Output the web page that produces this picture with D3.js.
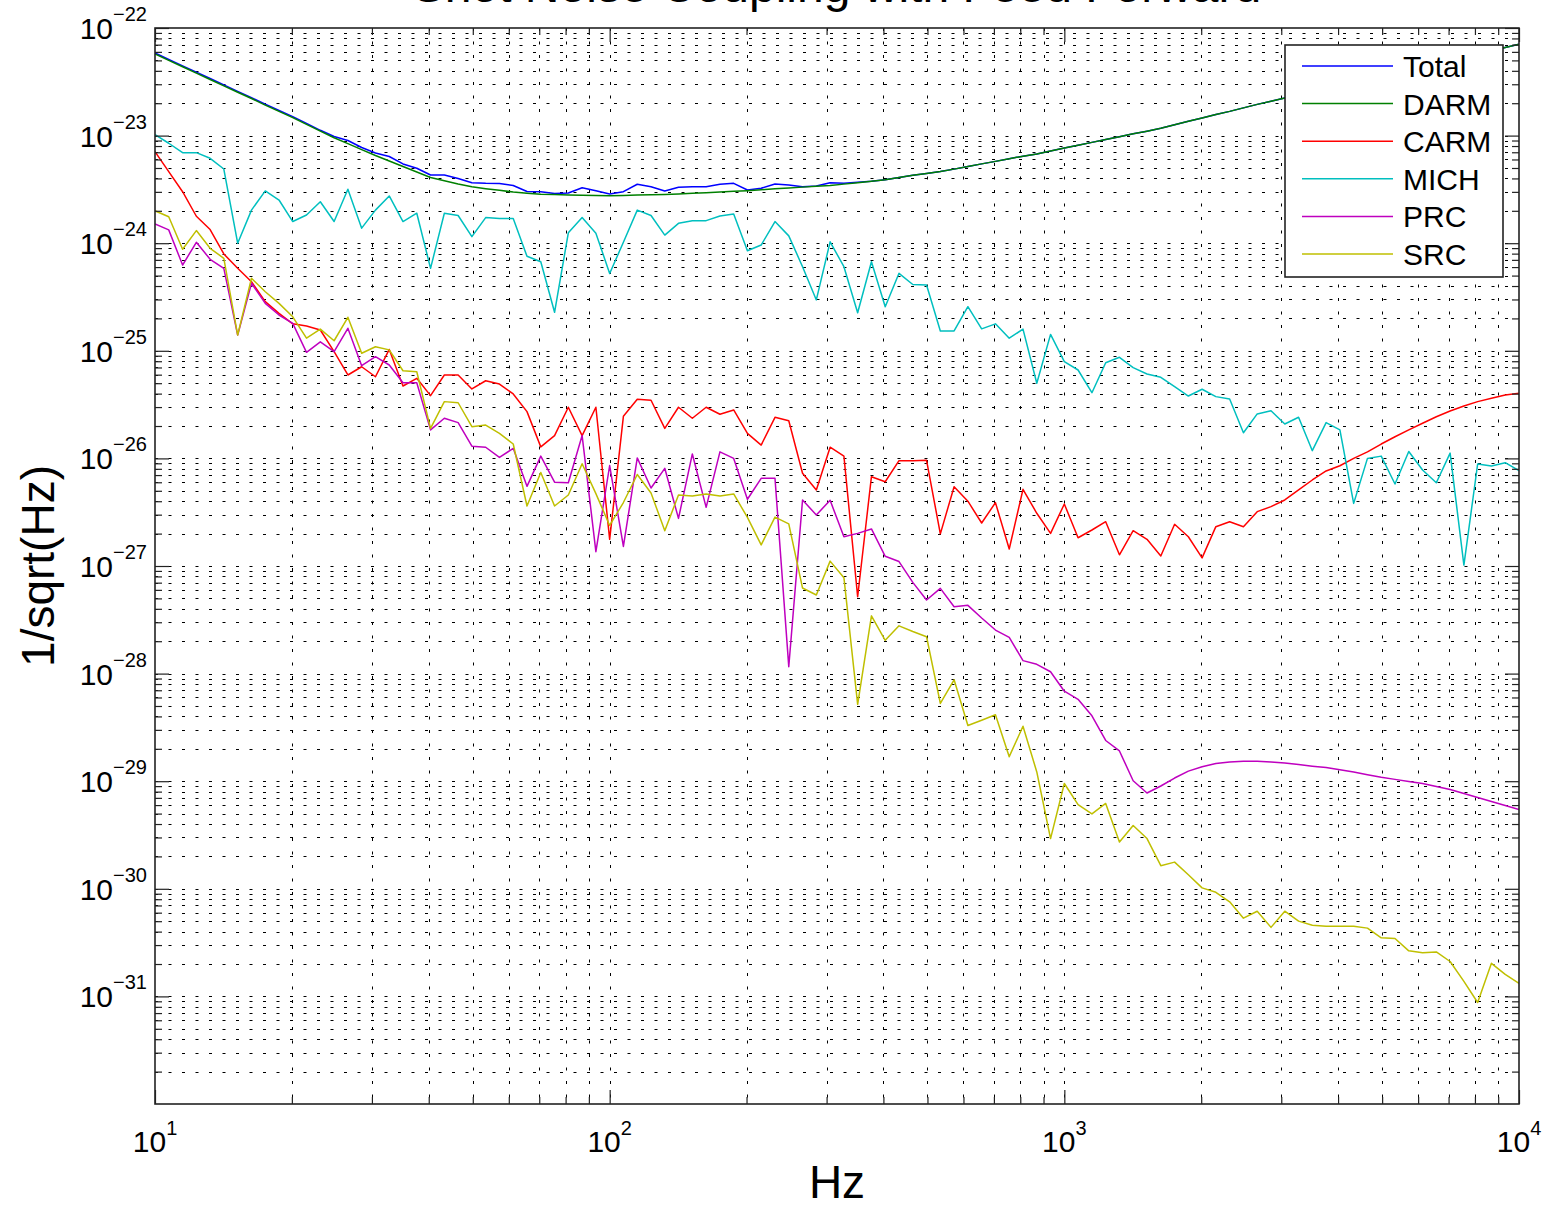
<!DOCTYPE html>
<html><head><meta charset="utf-8">
<script src="https://cdn.jsdelivr.net/npm/d3@7"></script>
<style>
body{margin:0;background:#fff;}
text{font-family:"Liberation Sans",Arial,Helvetica,sans-serif;fill:#000;}
</style>
</head><body>
<svg id="chart" width="1547" height="1207"></svg>
<script>
const freq = [10,10.72,11.50,12.33,13.22,14.17,15.20,16.30,17.48,18.74,20.09,21.54,23.10,24.77,26.56,28.48,30.54,32.75,35.11,37.65,40.37,43.29,46.42,49.77,53.37,57.22,61.36,65.79,70.55,75.65,81.11,86.98,93.26,
100,107.2,115.0,123.3,132.2,141.7,152.0,163.0,174.8,187.4,200.9,215.4,231.0,247.7,265.6,284.8,305.4,327.5,351.1,376.5,403.7,432.9,464.2,497.7,533.7,572.2,613.6,657.9,705.5,756.5,811.1,869.8,932.6,
1000,1072,1150,1233,1322,1417,1520,1630,1748,1874,2009,2154,2310,2477,2656,2848,3054,3275,3511,3765,4037,4329,4642,4977,5337,5722,6136,6579,7055,7565,8111,8697,9326,10000];

const total = [5.85e-23,5.10e-23,4.45e-23,3.89e-23,3.39e-23,2.96e-23,2.58e-23,2.25e-23,1.96e-23,1.71e-23,1.50e-23,1.30e-23,1.12e-23,
9.81e-24,9.01e-24,7.75e-24,6.89e-24,6.39e-24,5.45e-24,4.97e-24,4.30e-24,4.30e-24,3.99e-24,3.65e-24,3.60e-24,3.59e-24,3.44e-24,3.02e-24,3.01e-24,2.90e-24,2.93e-24,3.28e-24,3.07e-24,2.87e-24,3.01e-24,3.53e-24,3.35e-24,3.06e-24,3.31e-24,3.35e-24,3.35e-24,3.53e-24,3.60e-24,3.12e-24,3.24e-24,3.55e-24,3.47e-24,3.35e-24,3.40e-24,3.65e-24,3.60e-24,3.68e-24,
3.76e-24,3.89e-24,4.08e-24,4.27e-24,4.45e-24,4.63e-24,4.88e-24,5.16e-24,5.46e-24,5.76e-24,6.09e-24,6.44e-24,6.76e-24,7.19e-24,7.67e-24,8.14e-24,8.65e-24,9.18e-24,9.75e-24,1.04e-23,1.10e-23,1.17e-23,1.26e-23,1.36e-23,1.46e-23,1.57e-23,1.68e-23,1.81e-23,1.95e-23,2.09e-23,2.24e-23,2.39e-23,2.56e-23,2.74e-23,2.93e-23,3.13e-23,3.36e-23,3.59e-23,3.84e-23,4.12e-23,4.40e-23,4.71e-23,5.04e-23,5.39e-23,5.77e-23,6.17e-23,6.60e-23,7.07e-23];

const darm = [5.73e-23,5.00e-23,4.36e-23,3.81e-23,3.32e-23,2.90e-23,2.53e-23,2.21e-23,1.92e-23,1.68e-23,1.47e-23,1.27e-23,1.10e-23,
9.56e-24,8.43e-24,7.41e-24,6.53e-24,5.81e-24,5.16e-24,4.59e-24,4.08e-24,3.81e-24,3.55e-24,3.34e-24,3.21e-24,3.10e-24,2.99e-24,2.91e-24,2.85e-24,2.83e-24,2.81e-24,2.79e-24,2.78e-24,2.76e-24,2.78e-24,2.80e-24,2.82e-24,2.84e-24,2.87e-24,2.91e-24,2.95e-24,2.99e-24,3.04e-24,3.08e-24,3.14e-24,3.20e-24,3.26e-24,3.32e-24,3.38e-24,3.44e-24,3.54e-24,3.65e-24,
3.76e-24,3.89e-24,4.08e-24,4.27e-24,4.45e-24,4.63e-24,4.88e-24,5.16e-24,5.46e-24,5.76e-24,6.09e-24,6.44e-24,6.76e-24,7.19e-24,7.67e-24,8.14e-24,8.65e-24,9.18e-24,9.75e-24,1.04e-23,1.10e-23,1.17e-23,1.26e-23,1.36e-23,1.46e-23,1.57e-23,1.68e-23,1.81e-23,1.95e-23,2.09e-23,2.24e-23,2.39e-23,2.56e-23,2.74e-23,2.93e-23,3.13e-23,3.36e-23,3.59e-23,3.84e-23,4.12e-23,4.40e-23,4.71e-23,5.04e-23,5.39e-23,5.77e-23,6.17e-23,6.60e-23,7.07e-23];

const carm = [7.09e-24,4.62e-24,3.01e-24,1.78e-24,1.34e-24,7.94e-25,5.84e-25,4.39e-25,2.86e-25,2.23e-25,1.78e-25,1.70e-25,1.56e-25,9.81e-26,5.96e-26,7.11e-26,5.74e-26,1.03e-25,4.71e-26,5.55e-26,
3.83e-26,5.96e-26,5.96e-26,4.42e-26,5.27e-26,4.91e-26,3.97e-26,2.72e-26,1.28e-26,1.63e-26,2.99e-26,1.63e-26,2.99e-26,1.77e-27,2.46e-26,3.54e-26,3.47e-26,1.90e-26,2.99e-26,2.36e-26,
2.99e-26,2.57e-26,2.82e-26,1.71e-26,1.33e-26,2.41e-26,2.24e-26,7.27e-27,5.09e-27,1.27e-26,1.05e-26,5.18e-28,6.76e-27,6.07e-27,9.52e-27,9.52e-27,9.60e-27,1.99e-27,5.46e-27,4.00e-27,
2.51e-27,3.88e-27,1.44e-27,5.16e-27,3.09e-27,2.01e-27,3.77e-27,1.83e-27,2.16e-27,2.58e-27,1.27e-27,2.13e-27,1.77e-27,1.24e-27,2.44e-27,1.87e-27,1.19e-27,2.32e-27,2.58e-27,2.32e-27,
3.20e-27,3.56e-27,4.11e-27,5.09e-27,6.30e-27,7.64e-27,8.55e-27,1.00e-26,1.15e-26,1.36e-26,1.59e-26,1.84e-26,2.12e-26,2.44e-26,2.76e-26,3.07e-26,3.37e-26,3.62e-26,3.88e-26,4.03e-26];

const mich = [1.02e-23,8.49e-24,6.94e-24,6.94e-24,6.15e-24,4.89e-24,1.00e-24,2.03e-24,3.06e-24,2.52e-24,1.59e-24,1.83e-24,2.43e-24,1.59e-24,3.17e-24,1.38e-24,2.03e-24,2.75e-24,1.59e-24,1.90e-24,
5.84e-25,1.90e-24,1.81e-24,1.15e-24,1.73e-24,1.70e-24,1.70e-24,7.56e-25,6.73e-25,2.28e-25,1.25e-24,1.73e-24,1.24e-24,5.23e-25,1.02e-24,2.03e-24,1.81e-24,1.19e-24,1.53e-24,1.62e-24,
1.62e-24,1.79e-24,1.87e-24,8.52e-25,9.62e-25,1.59e-24,1.17e-24,6.05e-25,2.97e-25,1.03e-24,6.05e-25,2.26e-25,6.73e-25,2.57e-25,5.25e-25,4.13e-25,4.09e-25,1.53e-25,1.53e-25,2.57e-25,
1.60e-25,1.78e-25,1.31e-25,1.59e-25,4.99e-26,1.42e-25,7.92e-26,6.63e-26,4.08e-26,7.75e-26,8.70e-26,6.97e-26,6.09e-26,5.67e-26,4.64e-26,3.80e-26,4.39e-26,3.75e-26,3.57e-26,1.73e-26,
2.59e-26,2.77e-26,2.09e-26,2.41e-26,1.18e-26,2.15e-26,1.84e-26,3.82e-27,1.00e-26,1.05e-26,5.78e-27,1.16e-26,7.80e-27,5.94e-27,1.12e-26,1.02e-27,8.87e-27,8.50e-27,9.12e-27,7.69e-27];

const prc = [1.51e-24,1.33e-24,6.27e-25,1.02e-24,7.09e-25,5.84e-25,1.40e-25,4.24e-25,2.76e-25,2.15e-25,1.80e-25,9.68e-26,1.21e-25,9.81e-26,1.62e-25,7.27e-26,8.81e-26,7.38e-26,5.05e-26,5.05e-26,
1.84e-26,2.36e-26,2.15e-26,1.30e-26,1.27e-26,1.02e-26,1.24e-26,5.50e-27,1.05e-26,6.01e-27,5.94e-27,1.63e-26,1.36e-27,8.59e-27,1.52e-27,1.01e-26,5.31e-27,8.09e-27,2.77e-27,1.10e-26,
3.51e-27,1.15e-26,1.00e-26,4.17e-27,6.53e-27,6.53e-27,1.16e-28,4.11e-27,2.98e-27,4.08e-27,1.87e-27,2.01e-27,2.21e-27,1.23e-27,1.10e-27,7.04e-28,4.83e-28,6.19e-28,4.18e-28,4.31e-28,
3.29e-28,2.54e-28,2.17e-28,1.32e-28,1.22e-28,1.04e-28,6.86e-29,5.77e-29,4.05e-29,2.39e-29,1.91e-29,1.01e-29,7.77e-30,9.02e-30,1.07e-29,1.24e-29,1.36e-29,1.46e-29,1.51e-29,1.53e-29,
1.53e-29,1.51e-29,1.48e-29,1.43e-29,1.38e-29,1.34e-29,1.28e-29,1.22e-29,1.15e-29,1.09e-29,1.04e-29,9.96e-30,9.52e-30,8.93e-30,8.37e-30,7.69e-30,7.06e-30,6.48e-30,5.95e-30,5.46e-30];

const src = [2.00e-24,1.76e-24,8.78e-25,1.31e-24,8.97e-25,7.24e-25,1.40e-25,4.72e-25,3.54e-25,2.76e-25,2.07e-25,1.31e-25,1.59e-25,1.24e-25,2.05e-25,9.48e-26,1.09e-25,1.02e-25,6.53e-26,6.39e-26,
1.90e-26,3.37e-26,3.29e-26,1.97e-26,2.04e-26,1.71e-26,1.36e-26,3.61e-27,7.40e-27,3.61e-27,4.57e-27,8.93e-27,4.70e-27,2.38e-27,3.89e-27,7.09e-27,4.77e-27,2.13e-27,4.57e-27,4.47e-27,
4.67e-27,4.47e-27,4.67e-27,2.83e-27,1.57e-27,2.85e-27,2.46e-27,6.24e-28,5.38e-28,1.11e-27,7.79e-28,5.18e-29,3.44e-28,2.04e-28,2.78e-28,2.46e-28,2.20e-28,5.28e-29,8.76e-29,3.29e-29,
3.69e-29,4.14e-29,1.69e-29,3.24e-29,1.22e-29,2.93e-30,9.52e-30,6.06e-30,4.96e-30,6.21e-30,2.72e-30,3.87e-30,2.93e-30,1.64e-30,1.77e-30,1.35e-30,1.02e-30,9.28e-31,7.57e-31,5.33e-31,
6.19e-31,4.38e-31,6.19e-31,5.01e-31,4.58e-31,4.48e-31,4.48e-31,4.48e-31,4.31e-31,3.50e-31,3.45e-31,2.65e-31,2.55e-31,2.59e-31,2.11e-31,1.38e-31,8.78e-32,2.03e-31,1.60e-31,1.32e-31];

const seriesNames = ["Total","DARM","CARM","MICH","PRC","SRC"];
const seriesColors = ["#0000ff","#008000","#ff0000","#00bfbf","#bf00bf","#bfbf00"];
const xDomain = [10, 10000];
const yDomain = [1e-32, 1e-22];
const titleText = "Shot Noise Coupling with Feed Forward";
const xLabel = "Hz";
const yLabel = "1/sqrt(Hz)";

const seriesData = [total, darm, carm, mich, prc, src];

const L = 155, R = 1519, T = 28, B = 1104;
const svg = d3.select("#chart");
const x = d3.scaleLog().domain(xDomain).range([L, R]);
const y = d3.scaleLog().domain(yDomain).range([B, T]);

const isDecade = v => Math.abs(Math.log10(v) - Math.round(Math.log10(v))) < 1e-9;
const xAll = x.ticks();
const yAll = y.ticks(20);
const xMajor = xAll.filter(isDecade), xMinor = xAll.filter(v => !isDecade(v));
const yMajor = yAll.filter(isDecade), yMinor = yAll.filter(v => !isDecade(v));

// grid
const grid = svg.append("g").attr("stroke", "#000").attr("stroke-width", 1)
  .attr("stroke-dasharray", "3,10.5").attr("stroke-opacity", 1);
grid.selectAll(".gx").data(xAll.filter(v => v > xDomain[0] && v < xDomain[1])).join("line")
  .attr("x1", d => Math.round(x(d)) + 0.5).attr("x2", d => Math.round(x(d)) + 0.5)
  .attr("y1", T).attr("y2", B);
grid.selectAll(".gy").data(yAll.filter(v => v > yDomain[0] * 1.0001 && v < yDomain[1] * 0.9999)).join("line")
  .attr("y1", d => Math.round(y(d)) + 0.5).attr("y2", d => Math.round(y(d)) + 0.5)
  .attr("x1", L).attr("x2", R);

// clip
svg.append("clipPath").attr("id", "clip").append("rect")
  .attr("x", L).attr("y", T).attr("width", R - L).attr("height", B - T);

const line = d3.line().x(d => x(d[0])).y(d => y(d[1]));
const lines = svg.append("g").attr("clip-path", "url(#clip)");
seriesData.forEach((s, i) => {
  lines.append("path")
    .attr("d", line(freq.map((f, k) => [f, s[k]])))
    .attr("fill", "none").attr("stroke", seriesColors[i])
    .attr("stroke-width", 1.5).attr("stroke-linejoin", "round");
});

// axes ticks (inward)
function styleAxis(g) {
  g.select(".domain").remove();
  g.selectAll(".tick line").attr("stroke", "#222").attr("stroke-width", 1.2);
  g.selectAll(".tick text").remove();
}
const tickMaj = 14, tickMin = 7;
[[d3.axisBottom, B], [d3.axisTop, T]].forEach(([ax, pos]) => {
  svg.append("g").attr("transform", `translate(0,${pos})`)
    .call(ax(x).tickValues(xMajor).tickSize(-tickMaj).tickSizeOuter(0)).call(styleAxis);
  svg.append("g").attr("transform", `translate(0,${pos})`)
    .call(ax(x).tickValues(xMinor).tickSize(-tickMin).tickSizeOuter(0)).call(styleAxis);
});
[[d3.axisLeft, L], [d3.axisRight, R]].forEach(([ax, pos]) => {
  svg.append("g").attr("transform", `translate(${pos},0)`)
    .call(ax(y).tickValues(yMajor).tickSize(-tickMaj).tickSizeOuter(0)).call(styleAxis);
  svg.append("g").attr("transform", `translate(${pos},0)`)
    .call(ax(y).tickValues(yMinor).tickSize(-tickMin).tickSizeOuter(0)).call(styleAxis);
});

// frame
svg.append("rect").attr("x", L).attr("y", T).attr("width", R - L).attr("height", B - T)
  .attr("fill", "none").attr("stroke", "#222").attr("stroke-width", 1.6);

// tick labels
xMajor.forEach(v => {
  const t = svg.append("text").attr("x", x(v)).attr("y", 1152)
    .attr("text-anchor", "middle").attr("font-size", 30);
  t.append("tspan").text("10");
  t.append("tspan").attr("dy", -17).attr("font-size", 20).text(String(Math.round(Math.log10(v))));
});
yMajor.forEach(v => {
  const t = svg.append("text").attr("x", 147).attr("y", y(v) + 11)
    .attr("text-anchor", "end").attr("font-size", 30);
  t.append("tspan").text("10");
  t.append("tspan").attr("dy", -18).attr("font-size", 20)
    .text(String(Math.round(Math.log10(v))).replace("-", "\u2212"));
});

// axis labels & title
svg.append("text").attr("x", (L + R) / 2).attr("y", 1198).attr("text-anchor", "middle")
  .attr("font-size", 46).text(xLabel);
svg.append("text").attr("transform", `translate(54,${(T + B) / 2}) rotate(-90)`)
  .attr("text-anchor", "middle").attr("font-size", 46).text(yLabel);
svg.append("text").attr("x", (L + R) / 2).attr("y", 2).attr("text-anchor", "middle")
  .attr("font-size", 48).text(titleText);

// legend
const lg = svg.append("g");
lg.append("rect").attr("x", 1285).attr("y", 45).attr("width", 218).attr("height", 232)
  .attr("fill", "#fff").attr("stroke", "#222").attr("stroke-width", 1.6);
seriesNames.forEach((n, i) => {
  const ry = 66 + i * 37.6;
  lg.append("line").attr("x1", 1302).attr("x2", 1393).attr("y1", ry).attr("y2", ry)
    .attr("stroke", seriesColors[i]).attr("stroke-width", 1.5);
  lg.append("text").attr("x", 1403).attr("y", ry + 11).attr("font-size", 30).text(n);
});
</script>
</body></html>
